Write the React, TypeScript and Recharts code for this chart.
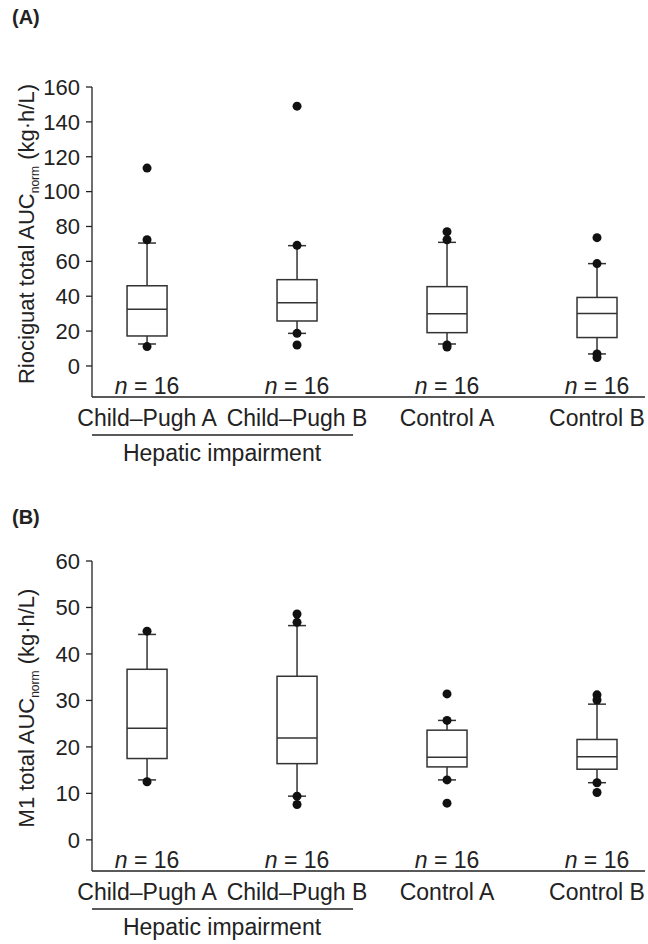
import { ComposedChart, Bar, Scatter, XAxis, YAxis } from 'recharts';

const FONT = '"Liberation Sans", Arial, Helvetica, sans-serif';
const INK = '#222';

const categories = ['Child–Pugh A', 'Child–Pugh B', 'Control A', 'Control B'];
const groupCounts = [16, 16, 16, 16];
const xTicks = [0, 1, 2, 3];

// (A) riociguat total AUCnorm
const rioLow = [12.6, 18.7, 12.6, 6.9];
const rioQ1 = [17.2, 25.8, 19.1, 16.3];
const rioMedian = [32.5, 36.3, 30.0, 30.1];
const rioQ3 = [46.0, 49.5, 45.5, 39.3];
const rioHigh = [70.5, 69.0, 70.9, 58.7];
const rioOutliers = [
  [113.5, 72.4, 11.1],
  [149.0, 69.2, 18.7, 12.0],
  [77.0, 72.4, 12.0, 10.9],
  [73.6, 58.7, 6.9, 4.8],
];
const rioTicks = [0, 20, 40, 60, 80, 100, 120, 140, 160];

// (B) M1 total AUCnorm
const m1Low = [12.9, 9.4, 12.9, 12.3];
const m1Q1 = [17.5, 16.4, 15.7, 15.2];
const m1Median = [24.0, 21.9, 17.8, 17.9];
const m1Q3 = [36.7, 35.2, 23.6, 21.6];
const m1High = [44.2, 46.1, 25.7, 29.2];
const m1Outliers = [
  [44.9, 12.5],
  [48.6, 46.8, 9.4, 7.6],
  [31.4, 25.7, 12.9, 7.9],
  [31.2, 30.1, 12.3, 10.2],
];
const m1Ticks = [0, 10, 20, 30, 40, 50, 60];

const buildBoxes = (low: number[], q1: number[], med: number[], q3: number[], high: number[]) =>
  categories.map((_, i) => ({
    x: i,
    range: [low[i], high[i]],
    low: low[i],
    q1: q1[i],
    median: med[i],
    q3: q3[i],
    high: high[i],
  }));

const buildPoints = (pts: number[][]) => pts.flatMap((list, i) => list.map((y) => ({ x: i, y })));

// box drawn inside the whisker range bar, positions interpolated from the bar's own pixel extent
const BoxShape = (props: any) => {
  const { x, y, width, height, payload } = props;
  const top = Math.min(y, y + height);
  const bottom = Math.max(y, y + height);
  const { low, q1, median, q3, high } = payload;
  const py = (v: number) => bottom - ((bottom - top) * (v - low)) / (high - low);
  const cx = x + width / 2;
  const cap = 9;
  const s = { stroke: '#333', strokeWidth: 1.5 };
  return (
    <g>
      <line x1={cx} x2={cx} y1={py(high)} y2={py(q3)} {...s} />
      <line x1={cx} x2={cx} y1={py(q1)} y2={py(low)} {...s} />
      <line x1={cx - cap} x2={cx + cap} y1={py(high)} y2={py(high)} {...s} />
      <line x1={cx - cap} x2={cx + cap} y1={py(low)} y2={py(low)} {...s} />
      <rect x={x} y={py(q3)} width={width} height={py(q1) - py(q3)} fill="#fff" {...s} />
      <line x1={x} x2={x + width} y1={py(median)} y2={py(median)} {...s} />
    </g>
  );
};

const OutlierDot = (props: any) => <circle cx={props.cx} cy={props.cy} r={4.5} fill="#111" />;

const CategoryTick = (props: any) => {
  const { x, y, payload } = props;
  const i = payload.value as number;
  return (
    <g fontFamily={FONT} fontSize={23} fill={INK}>
      <text x={x} y={y - 3} textAnchor="middle" fill={INK}>
        <tspan fontStyle="italic">n</tspan> = {groupCounts[i]}
      </text>
      <text x={x} y={y + 29} textAnchor="middle" fill={INK}>
        {categories[i]}
      </text>
      {i === 0 && (
        <g>
          <line x1={x - 55} x2={x + 206} y1={y + 38} y2={y + 38} stroke={INK} strokeWidth={1.3} />
          <text x={x + 75} y={y + 64} textAnchor="middle" fill={INK}>
            Hepatic impairment
          </text>
        </g>
      )}
    </g>
  );
};

const AxisTitle = ({ cx, cy, main }: { cx: number; cy: number; main: string }) => (
  <text
    transform={`translate(${cx},${cy}) rotate(-90)`}
    textAnchor="middle"
    fontSize={22}
    fontFamily={FONT}
    fill={INK}
  >
    {main}
    <tspan fontSize={12} dy={5}>norm</tspan>
    <tspan dy={-5}> (kg·h/L)</tspan>
  </text>
);

interface PanelProps {
  boxes: any[];
  points: { x: number; y: number }[];
  domain: [number, number];
  ticks: number[];
  title: string;
  titleY: number;
}

function Panel({ boxes, points, domain, ticks, title, titleY }: PanelProps) {
  return (
    <ComposedChart
      width={648}
      height={470}
      data={boxes}
      margin={{ top: 87, right: 3, bottom: 13, left: 32 }}
      barGap={0}
    >
      <XAxis
        dataKey="x"
        type="number"
        domain={[-0.367, 3.32]}
        allowDataOverflow
        ticks={xTicks}
        interval={0}
        tickLine={false}
        tickSize={0}
        tickMargin={0}
        height={60}
        axisLine={{ stroke: INK, strokeWidth: 1.3 }}
        tick={<CategoryTick />}
      />
      <YAxis
        type="number"
        domain={domain}
        allowDataOverflow
        ticks={ticks}
        interval={0}
        width={60}
        tickSize={6}
        tickMargin={6}
        axisLine={{ stroke: INK, strokeWidth: 1.3 }}
        tickLine={{ stroke: INK, strokeWidth: 1.3 }}
        tick={{ fill: INK, fontSize: 22, fontFamily: FONT }}
        label={{ content: () => <AxisTitle cx={34} cy={titleY} main={title} /> }}
      />
      <Bar dataKey="range" barSize={40} shape={<BoxShape />} isAnimationActive={false} />
      <Scatter data={points} dataKey="y" shape={<OutlierDot />} isAnimationActive={false} />
    </ComposedChart>
  );
}

export default function App() {
  const panelLabel = { position: 'absolute' as const, left: 12, fontFamily: FONT, fontWeight: 700, fontSize: 20, color: INK };
  return (
    <div style={{ position: 'absolute', left: 0, top: 0, width: 648, height: 944, background: '#fff' }}>
      <div style={{ ...panelLabel, top: 6 }}>(A)</div>
      <div style={{ position: 'absolute', left: 0, top: 0 }}>
        <Panel
          boxes={buildBoxes(rioLow, rioQ1, rioMedian, rioQ3, rioHigh)}
          points={buildPoints(rioOutliers)}
          domain={[-17.8, 160]}
          ticks={rioTicks}
          title="Riociguat total AUC"
          titleY={234}
        />
      </div>
      <div style={{ ...panelLabel, top: 506 }}>(B)</div>
      <div style={{ position: 'absolute', left: 0, top: 474 }}>
        <Panel
          boxes={buildBoxes(m1Low, m1Q1, m1Median, m1Q3, m1High)}
          points={buildPoints(m1Outliers)}
          domain={[-6.7, 60]}
          ticks={m1Ticks}
          title="M1 total AUC"
          titleY={234}
        />
      </div>
    </div>
  );
}
